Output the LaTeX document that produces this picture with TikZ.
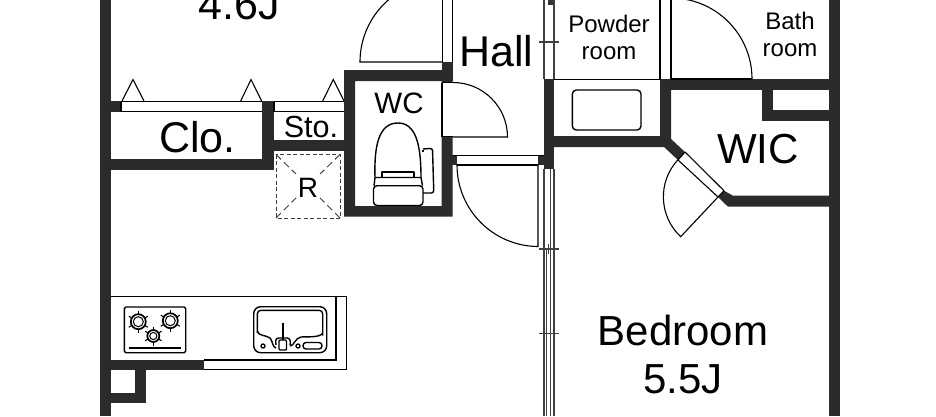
\documentclass[tikz,border=0pt]{standalone}
\usepackage{fontspec}
\setmainfont{Liberation Sans}
\definecolor{wallc}{HTML}{2B2B2B}
\newcommand{\fsz}[1]{\fontsize{#1}{#1}\selectfont}
\tikzset{
  wall/.style={fill=wallc,draw=none},
  thin line/.style={draw=black,line width=1.1pt},
  win line/.style={draw=black!75,line width=1.2pt},
  fix/.style={draw=black,line width=1.4pt,line join=round},
  big/.style={font=\fsz{43},inner sep=0pt,anchor=base},
  mid/.style={font=\fsz{29.5},inner sep=0pt,anchor=base},
  small/.style={font=\fsz{24},inner sep=0pt,align=center}
}
\begin{document}
\begin{tikzpicture}[x=1pt,y=1pt]
\useasboundingbox (0,0) rectangle (936,-416);
\fill[white] (0,0) rectangle (936,-416);
% outer walls
\fill[wall] (100,0) rectangle (110.7,-416);
\fill[wall] (829,0) rectangle (840,-416);
% closet walls
\fill[wall] (110,-101) rectangle (121,-112);
\fill[wall] (262,-101) rectangle (274,-170);
\fill[wall] (110,-159) rectangle (274,-170);
\fill[wall] (274,-140) rectangle (344,-151);
% WC walls
\fill[wall,even odd rule] (344,-70) rectangle (452.7,-216.7) (355,-81) rectangle (441.5,-206);
\fill[wall] (441.5,-62) rectangle (452.7,-81);
\fill[white] (442,-82.5) rectangle (452.7,-136.7);
\draw[thin line] (442,-82.5) -- (442,-136.7) (442,-136.7) -- (452.7,-136.7) (442,-82.5) -- (452.7,-82.5);
% strip above WC
\draw[thin line] (442.7,0) -- (442.7,-62) (452.7,0) -- (452.7,-62);
% hall right wall and entry stubs
\fill[wall] (544,-79) rectangle (554,-169);
\fill[wall] (537.5,-155) rectangle (544,-165);
\fill[wall] (452,-155) rectangle (457,-165);
% powder / bath walls
\fill[wall] (660,-79) rectangle (829,-90);
\fill[wall] (762,-90) rectangle (773,-120.7);
\fill[wall] (762,-109.7) rectangle (829,-120.7);
\fill[wall] (554,-136) -- (660,-136) -- (660,-90) -- (671,-90) -- (671,-139) -- (685,-152) -- (678,-160) -- (664,-147) -- (554,-147) -- cycle;
\fill[wall] (724,-190.7) -- (733,-195.7) -- (829,-195.7) -- (829,-206.7) -- (728,-206.7) -- (718,-197) -- cycle;
% kitchen walls
\fill[wall] (110,-360) rectangle (204.3,-369.5);
\fill[wall] (134.5,-369) rectangle (145.5,-403.3);
\fill[wall] (110,-392.7) rectangle (145.5,-403.3);
% closet shelf lines and triangles
\draw[thin line] (121,-101.5) -- (262,-101.5) (121,-111.5) -- (262,-111.5) (121,-101.5) -- (121,-111.5);
\draw[thin line] (274,-101.5) -- (344,-101.5) (274,-111.5) -- (344,-111.5) (274,-101.5) -- (274,-111.5);
\draw[thin line,line join=miter] (122,-101) -- (133,-79.5) -- (144,-101);
\draw[thin line,line join=miter] (240.7,-101) -- (251,-79.5) -- (261.7,-101);
\draw[thin line,line join=miter] (322.7,-101) -- (333.3,-79.5) -- (344,-101);
% R shaft
\draw[draw=black!75,line width=1pt,dash pattern=on 4pt off 2.5pt] (276,-154.5) rectangle (340,-218);
\draw[draw=black!75,line width=1pt,dash pattern=on 7pt off 4pt] (276,-154.5) -- (296,-174) (340,-154.5) -- (320,-174) (276,-218) -- (296,-198) (340,-218) -- (320,-198);
% doors
\draw[thin line] (442,-62) -- (360,-62) arc[start angle=180,end angle=110,radius=82];
\draw[thin line] (453,-137) -- (507.5,-137) arc[start angle=0,end angle=90,radius=54.5];
\draw[thin line] (538,-247) -- (538,-165) (457,-165) arc[start angle=180,end angle=270,radius=81.5];
\draw[thin line] (453,-155.3) -- (544,-155.3) (457,-165) -- (538,-165);
\draw[thin line] (671,0) -- (671,-79);
\draw[thin line] (660,0) -- (660,-79);
\draw[line width=1.4pt] (671,-79) -- (752,-79);
\draw[thin line] (752,-79) arc[start angle=0,end angle=88,radius=81];
\draw[thin line] (554,-79.5) -- (660,-79.5);
% upper window
\draw[win line] (554,0) -- (554,-79) (544,0) -- (544,-79);
\draw[win line] (539,-42) -- (559,-42);
\fill[black!80] (548,0) rectangle (552.5,-5);
% WIC door
\draw[thin line] (685,-152) -- (724,-190.7) (678,-160) -- (718,-197) (685,-152) -- (678,-160) (724,-190.7) -- (718,-197);
\draw[thin line] (718,-197) -- (680.7,-236.7) arc[start angle=227,end angle=137,radius=54.5];
% long window
\draw[win line] (544,-169) -- (544,-416) (550.5,-169) -- (550.5,-416) (554,-169) -- (554,-416);
\draw[win line] (546.5,-249) -- (546.5,-416) (548.8,-244) -- (548.8,-254);
\draw[win line] (539,-249) -- (559,-249) (539,-333.5) -- (559,-333.5);
% wash basin
\draw[fix,rounded corners=4pt] (572.3,-90) rectangle (641,-130);
% toilet
\draw[fix,rounded corners=3.5pt] (373.5,-185.7) rectangle (423,-205.5);
\draw[fix] (375,-177.5) -- (421,-177.5) (375,-177.5) -- (374,-185.7) (421,-177.5) -- (422.5,-185.7);
\draw[fix] (382,-177.5) -- (382,-172) -- (414,-172) -- (414,-177.5);
\draw[fix] (375,-177.5) .. controls (374,-145) and (379,-123) .. (398,-123) .. controls (416,-123) and (421,-145) .. (421,-177.5);
\draw[fix,rounded corners=2.5pt] (423,-149) -- (432.5,-148.3) -- (433.8,-193) -- (423,-193);
\draw[fix] (423,-152) -- (423,-149.5);
% counter
\draw[thin line] (110,-296.7) -- (346.7,-296.7) -- (346.7,-369.3) -- (204,-369.3);
\draw[thin line] (336,-296.7) -- (336,-360) -- (204,-360);
% stove
\draw[fix,rounded corners=1.5pt] (124.4,-307) rectangle (185.7,-352.7);
\fill[black] (129,-346.6) rectangle (180.6,-349);
\foreach \cx/\cy/\ra/\rb/\rc in {138.3/-321.7/7.5/5/11, 170.3/-320.7/7.5/5/11, 153.3/-336/6/3.6/9.5}{
  \draw[line width=1.7pt] (\cx,\cy) circle (\ra);
  \draw[line width=1pt] (\cx,\cy) circle (\rb);
  \foreach \a in {30,90,150,210,270,330}
    \draw[line width=1.1pt] ({\cx+\ra*cos(\a)},{\cy+\ra*sin(\a)}) -- ({\cx+\rc*cos(\a)},{\cy+\rc*sin(\a)});
}
% kitchen sink
\draw[fix,rounded corners=7pt] (253.7,-306.7) rectangle (326.7,-352.7);
\draw[fix,rounded corners=3.5pt] (257.3,-333) -- (257.3,-310.3) -- (322.7,-310.3) -- (322.7,-335.5);
\draw[fix] (257.3,-331) .. controls (258,-336) and (266,-335) .. (270,-338) .. controls (273,-341) and (272,-347) .. (276,-348);
\draw[fix] (276,-345) .. controls (275,-340) and (276,-338) .. (279,-338) -- (287,-338) .. controls (290,-338) and (291,-341) .. (290,-345);
\draw[fix] (290,-346) .. controls (294,-346) and (295,-338) .. (301,-337) .. controls (306,-336.5) and (320,-338) .. (322.7,-333);
\draw[line width=2pt] (282.8,-323) -- (282.8,-341);
\draw[fix,fill=white,rounded corners=1pt] (279,-340) rectangle (286.5,-350);
\draw[fix] (263,-346) circle (2) (298,-346) circle (2);
\draw[fix,rounded corners=3pt] (303,-342.5) rectangle (322,-349);
% labels
\node[big] (living) at (239,-19) {4.6J};
\node[big] (hall) at (496.3,-66) {Hall};
\node[big] (clo) at (197.5,-152) {Clo.};
\node[big,font=\fsz{42}] (wic) at (758,-163) {WIC};
\node[font=\fsz{42},inner sep=0pt,align=center] (bed) at (683,-354) {Bedroom\\[6pt]5.5J};
\node[mid,font=\fsz{30.5}] (sto) at (311,-137) {Sto.};
\node[mid] (wc) at (399,-113) {WC};
\node[small,font=\fsz{24}] (pow) at (609,-37.5) {Powder\\[3.5pt]room};
\node[small,font=\fsz{24}] (bath) at (790,-34.5) {Bath\\[3.5pt]room};
\node[font=\fsz{28},inner sep=0pt,anchor=base] (r) at (308,-197) {R};
\end{tikzpicture}
\end{document}
